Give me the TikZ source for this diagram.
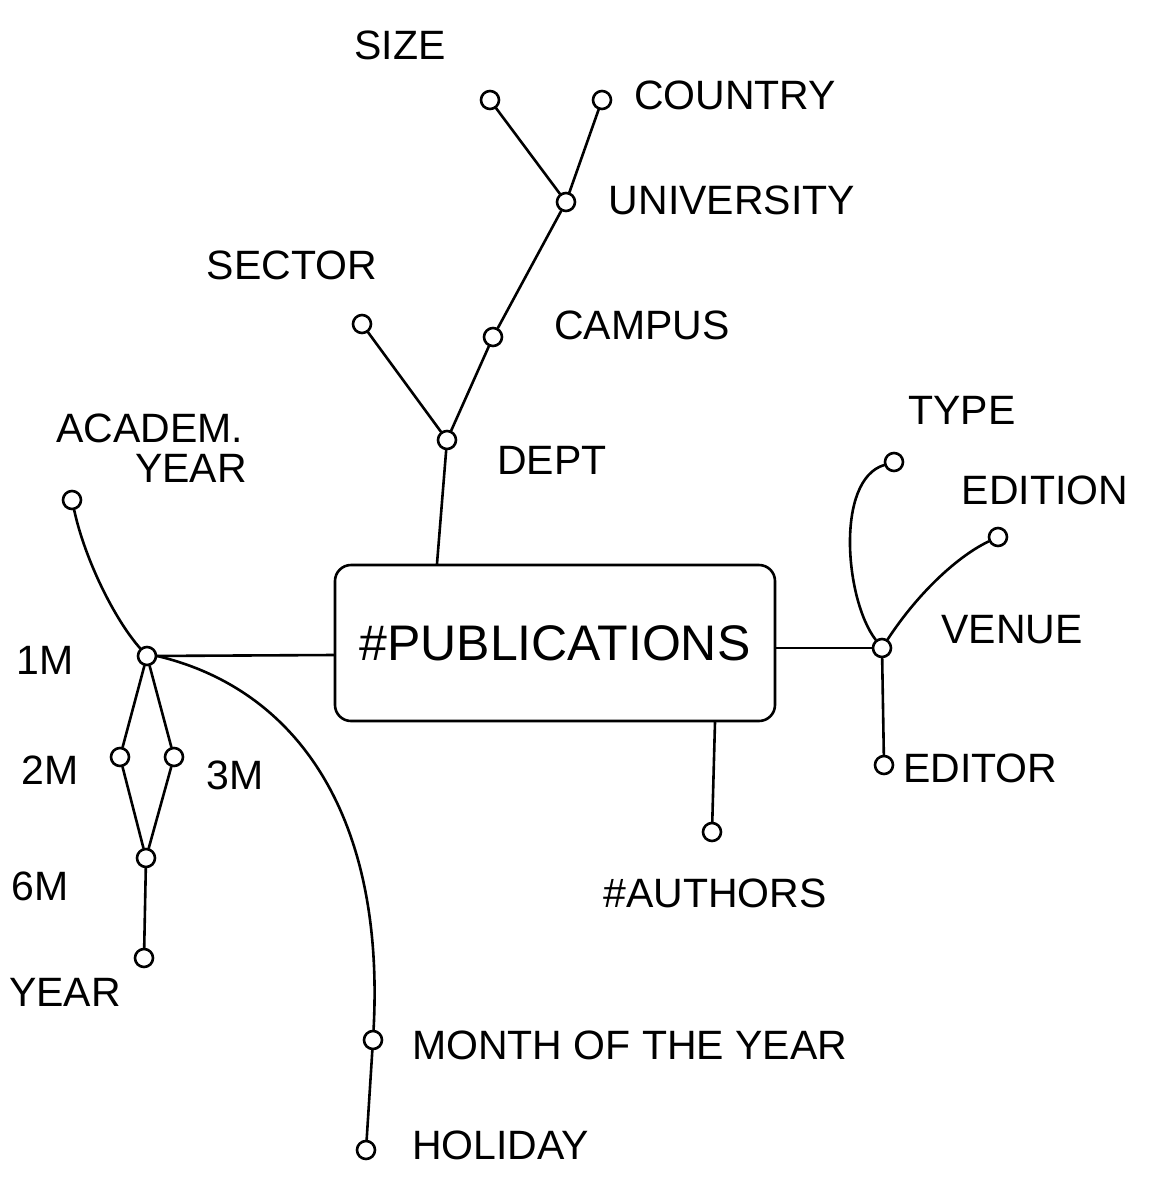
\documentclass[tikz,border=0pt]{standalone}
\usepackage{fontspec}
\setmainfont{Liberation Sans}
\begin{document}
\begin{tikzpicture}[x=0.5pt,y=-0.5pt,
  attr/.style={circle,draw,line width=1.3pt,minimum size=9pt,inner sep=0pt,fill=white},
  lbl/.style={font=\fontsize{20.5}{22}\selectfont},
  conn/.style={line width=1.3pt},
  every path/.style={line cap=round,line join=round}]
\useasboundingbox[fill=white] (0,0) rectangle (1160,1179);
% fact
\node[draw,line width=1.3pt,rounded corners=8pt,minimum width=220pt,minimum height=78pt,
  font=\fontsize{25}{27}\selectfont] (fact) at (555,643) {\#PUBLICATIONS};
% attributes
\node[attr] (size) at (490,100) {};
\node[attr] (country) at (602,100) {};
\node[attr] (univ) at (566,202) {};
\node[attr] (campus) at (493,337) {};
\node[attr] (sector) at (362,324) {};
\node[attr] (dept) at (447,440) {};
\node[attr] (acad) at (72,500) {};
\node[attr] (m1) at (147,656) {};
\node[attr] (m2) at (120,757) {};
\node[attr] (m3) at (174,757) {};
\node[attr] (m6) at (146,858) {};
\node[attr] (year) at (144,958) {};
\node[attr] (month) at (373,1040) {};
\node[attr] (holiday) at (366,1150) {};
\node[attr] (type) at (894,462) {};
\node[attr] (edition) at (998,537) {};
\node[attr] (venue) at (882,648) {};
\node[attr] (editor) at (884,765) {};
\node[attr] (authors) at (712,832) {};
% labels
\node[lbl] (tsize) at (400,45) {SIZE};
\node[lbl] (tcountry) at (735,95) {COUNTRY};
\node[lbl] (tuniv) at (732,200) {UNIVERSITY};
\node[lbl] (tcampus) at (642,325) {CAMPUS};
\node[lbl] (tsector) at (292,265) {SECTOR};
\node[lbl] (tdept) at (552,460) {DEPT};
\node[lbl,align=center] (tacad) at (150,448) {ACADEM.\\[-2pt]\hspace*{2em}YEAR};
\node[lbl] (tm1) at (45,660) {1M};
\node[lbl] (tm2) at (50,770) {2M};
\node[lbl] (tm3) at (235,775) {3M};
\node[lbl] (tm6) at (40,886) {6M};
\node[lbl] (tyear) at (65,992) {YEAR};
\node[lbl,anchor=west] (tmonth) at (405,1045) {MONTH OF THE YEAR};
\node[lbl,anchor=west] (tholiday) at (405,1145) {HOLIDAY};
\node[lbl] (ttype) at (962,410) {TYPE};
\node[lbl] (tedition) at (1045,490) {EDITION};
\node[lbl] (tvenue) at (1012,630) {VENUE};
\node[lbl,anchor=west] (teditor) at (896,768) {EDITOR};
\node[lbl] (tauthors) at (715,893) {\#AUTHORS};
% connectors
\draw[conn] (size) -- (univ);
\draw[conn] (country) -- (univ);
\draw[conn] (univ) -- (campus);
\draw[conn] (campus) -- (dept);
\draw[conn] (sector) -- (dept);
\draw[conn] (dept) -- (fact.north -| 437,0);
\draw[conn] (fact.south -| 715,0) -- (authors);
\draw[conn] (fact.east |- venue) -- (venue);
\draw[conn] (fact.west |- 0,655) -- (m1);
\draw[conn] (acad) .. controls (85,560) and (115,620) .. (m1);
\draw[conn] (m1) -- (m2);
\draw[conn] (m1) -- (m3);
\draw[conn] (m2) -- (m6);
\draw[conn] (m3) -- (m6);
\draw[conn] (m6) -- (year);
\draw[conn] (m1.east) .. controls (300,690) and (385,820) .. (month);
\draw[conn] (month) -- (holiday);
\draw[conn] (venue) .. controls (845,600) and (835,480) .. (type);
\draw[conn] (venue) .. controls (920,590) and (960,555) .. (edition);
\draw[conn] (venue) -- (editor);
\end{tikzpicture}
\end{document}
